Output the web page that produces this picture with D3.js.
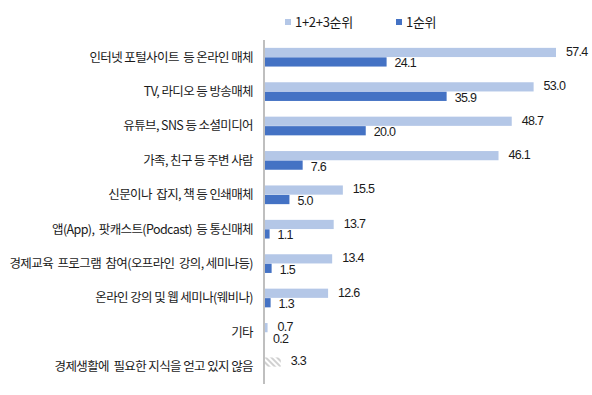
<!DOCTYPE html>
<html>
<head>
<meta charset="utf-8">
<script src="https://cdn.jsdelivr.net/npm/d3@7"></script>
<style>
  body { margin: 0; background: #fff; }
  svg { display: block; }
  text { white-space: pre; }
</style>
</head>
<body>
<svg id="chart" width="592" height="395"></svg>
<script>
// categories, top to bottom
const categories = [
    "인터넷 포털사이트  등 온라인 매체",
    "TV, 라디오 등 방송매체",
    "유튜브, SNS 등 소셜미디어",
    "가족, 친구 등 주변 사람",
    "신문이나  잡지, 책 등 인쇄매체",
    "앱(App),  팟캐스트(Podcast)  등 통신매체",
    "경제교육  프로그램  참여(오프라인  강의, 세미나등)",
    "온라인 강의 및 웹 세미나(웨비나)",
    "기타",
    "경제생활에  필요한 지식을 얻고 있지 않음"
];
const seriesNames = ["1+2+3순위", "1순위"];
// 1+2+3순위
const top3Values = [57.4, 53.0, 48.7, 46.1, 15.5, 13.7, 13.4, 12.6, 0.7, 3.3];
// 1순위 (null = no bar)
const top1Values = [24.1, 35.9, 20.0, 7.6, 5.0, 1.1, 1.5, 1.3, 0.2, null];
// index of the row drawn with hatching
const hatchedRow = 9;

const colors = { top3: "#b4c7e7", top1: "#4472c4", axis: "#bfbfbf", text: "#1a1a1a" };

const svg = d3.select("#chart"),
    margin = { left: 264, top: 40 };

const xScale = d3.scaleLinear().domain([0, 57.4]).range([0, 292]);
const yScale = d3.scaleBand().domain(categories).range([0, 344]).paddingInner(0.44).paddingOuter(0.22);
const subScale = d3.scaleBand().domain(seriesNames).range([0, yScale.bandwidth()]).padding(0.03);

// hatch pattern
const defs = svg.append("defs");
const pat = defs.append("pattern")
    .attr("id", "hatch")
    .attr("patternUnits", "userSpaceOnUse")
    .attr("width", 4).attr("height", 4)
    .attr("patternTransform", "rotate(-45)");
pat.append("rect").attr("width", 4).attr("height", 4).attr("fill", "#fff");
pat.append("rect").attr("width", 2).attr("height", 4).attr("fill", "#d0d0d0");

const g = svg.append("g")
    .attr("transform", "translate(" + margin.left + "," + margin.top + ")");

const numFont = "'Liberation Sans', Arial, sans-serif";
const korFont = "'Noto Sans CJK KR', sans-serif";

// bars
const rows = categories.map(function(c, i) {
    return { cat: c, i: i, v3: top3Values[i], v1: top1Values[i] };
});

const row = g.selectAll(".row")
    .data(rows)
    .enter().append("g")
    .attr("class", "row")
    .attr("transform", function(d) { return "translate(0," + yScale(d.cat) + ")"; });

row.append("rect")
    .attr("x", 0)
    .attr("y", subScale(seriesNames[0]))
    .attr("width", function(d) { return xScale(d.v3); })
    .attr("height", subScale.bandwidth())
    .attr("fill", function(d) { return d.i === hatchedRow ? "url(#hatch)" : colors.top3; });

row.filter(function(d) { return d.v1 != null; })
    .append("rect")
    .attr("x", 0)
    .attr("y", subScale(seriesNames[1]))
    .attr("width", function(d) { return xScale(d.v1); })
    .attr("height", subScale.bandwidth())
    .attr("fill", colors.top1);

// value labels
row.append("text")
    .attr("x", function(d) { return xScale(d.v3) + 10; })
    .attr("y", subScale(seriesNames[0]) + subScale.bandwidth() / 2 - 1)
    .attr("dy", "0.35em")
    .style("font-family", numFont)
    .style("font-size", "12.5px")
    .style("letter-spacing", "-0.7px")
    .attr("fill", colors.text)
    .text(function(d) { return d.v3.toFixed(1); });

row.filter(function(d) { return d.v1 != null; })
    .append("text")
    .attr("x", function(d) { return xScale(d.v1) + 8; })
    .attr("y", subScale(seriesNames[1]) + subScale.bandwidth() / 2 + 1)
    .attr("dy", "0.35em")
    .style("font-family", numFont)
    .style("font-size", "12.5px")
    .style("letter-spacing", "-0.7px")
    .attr("fill", colors.text)
    .text(function(d) { return d.v1.toFixed(1); });

// category labels
g.selectAll(".cat")
    .data(categories)
    .enter().append("text")
    .attr("class", "cat")
    .attr("x", -11)
    .attr("y", function(d) { return yScale(d) + yScale.bandwidth() / 2; })
    .attr("dy", "0.35em")
    .attr("text-anchor", "end")
    .style("font-family", korFont)
    .style("font-size", "12.5px")
    .style("letter-spacing", "-0.6px")
    .attr("fill", colors.text)
    .text(function(d) { return d; });

// axis line
g.append("line")
    .attr("x1", 0).attr("x2", 0)
    .attr("y1", 0).attr("y2", 344)
    .attr("stroke", colors.axis)
    .attr("stroke-width", 2);

// legend
const legend = svg.append("g").attr("transform", "translate(285,22)");
const legendX = [0, 111];
const legendColors = [colors.top3, colors.top1];
seriesNames.forEach(function(s, i) {
    legend.append("rect")
        .attr("x", legendX[i])
        .attr("y", -3)
        .attr("width", 6).attr("height", 6)
        .attr("fill", legendColors[i]);
    legend.append("text")
        .attr("x", legendX[i] + 10)
        .attr("y", 0)
        .attr("dy", "0.35em")
        .style("font-family", korFont)
        .style("font-size", "13px")
        .style("letter-spacing", "-0.3px")
        .attr("fill", colors.text)
        .text(s);
});
</script>
</body>
</html>
